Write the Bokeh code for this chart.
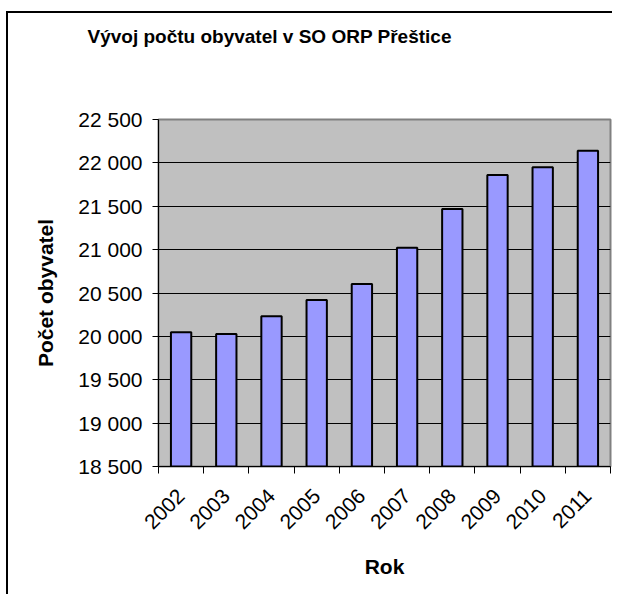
from math import pi
from bokeh.plotting import figure
from bokeh.models import ColumnDataSource, Range1d, FixedTicker, Title
from bokeh.embed import file_html
from bokeh.resources import INLINE

# ---- data ----
years = [2002, 2003, 2004, 2005, 2006, 2007, 2008, 2009, 2010, 2011]
population = [20047, 20028, 20232, 20419, 20604, 21022, 21468, 21859, 21951, 22139]
y_ticks = [18500, 19000, 19500, 20000, 20500, 21000, 21500, 22000, 22500]
y_tick_labels = ["18 500", "19 000", "19 500", "20 000", "20 500", "21 000", "21 500", "22 000", "22 500"]
title_text = "Vývoj počtu obyvatel v SO ORP Přeštice"
x_title = "Rok"
y_title = "Počet obyvatel"

FONT = "Liberation Sans"

src = ColumnDataSource(dict(year=years, pop=population))

p = figure(width=606, height=583, output_backend="svg", toolbar_location=None,
           x_range=Range1d(years[0] - 0.5, years[-1] + 0.5),
           y_range=Range1d(y_ticks[0], y_ticks[-1]),
           min_border_left=150, min_border_right=4, min_border_top=106, min_border_bottom=130)

# outer chart border (left and top edges of the chart area)
p.styles = {"margin-left": "8px", "margin-top": "13px",
            "box-shadow": "-2px -2px 0px 0px black"}

p.background_fill_color = "#C0C0C0"
p.border_fill_color = "white"
p.outline_line_color = "#808080"
p.outline_line_width = 2

p.vbar(x="year", top="pop", bottom=y_ticks[0], width=0.45, source=src,
       fill_color="#9999FF", line_color="black", line_width=2)

# y axis
yax = p.yaxis[0]
yax.ticker = FixedTicker(ticks=y_ticks, minor_ticks=[])
yax.major_label_overrides = {t: l for t, l in zip(y_ticks, y_tick_labels)}
yax.major_label_text_font = FONT
yax.major_label_text_font_size = "21px"
yax.major_label_text_color = "black"
yax.major_tick_out = 6
yax.major_tick_in = 0
yax.minor_tick_out = 0
yax.minor_tick_in = 0
yax.major_label_standoff = 10
yax.axis_line_color = "black"
yax.major_tick_line_color = "black"
yax.axis_label = y_title
yax.axis_label_text_font = FONT
yax.axis_label_text_font_style = "bold"
yax.axis_label_text_font_size = "21px"
yax.axis_label_text_color = "black"
yax.axis_label_standoff = 18

# x axis
xax = p.xaxis[0]
xax.ticker = FixedTicker(ticks=years, minor_ticks=[y - 0.5 for y in years] + [years[-1] + 0.5])
xax.major_label_text_font = FONT
xax.major_label_text_font_size = "21px"
xax.major_label_text_color = "black"
xax.major_label_orientation = pi / 4
xax.major_tick_out = 0
xax.major_tick_in = 0
xax.minor_tick_out = 7
xax.minor_tick_in = 0
xax.minor_tick_line_color = "black"
xax.axis_line_color = "black"
xax.major_label_standoff = 19
xax.axis_label = x_title
xax.axis_label_text_font = FONT
xax.axis_label_text_font_style = "bold"
xax.axis_label_text_font_size = "21px"
xax.axis_label_text_color = "black"
xax.axis_label_standoff = 17

p.xgrid.grid_line_color = None
p.ygrid.ticker = FixedTicker(ticks=y_ticks)
p.ygrid.grid_line_color = "black"
p.ygrid.grid_line_width = 1

# title: spacer title next to the frame, real title above it
p.add_layout(Title(text=" ", text_font_size="50px", align="left"), "above")
p.add_layout(Title(text=title_text, text_font=FONT, text_font_style="bold",
                   text_font_size="19px", text_color="black", align="left", offset=-71), "above")

open("out.html", "w").write(file_html(p, INLINE))
